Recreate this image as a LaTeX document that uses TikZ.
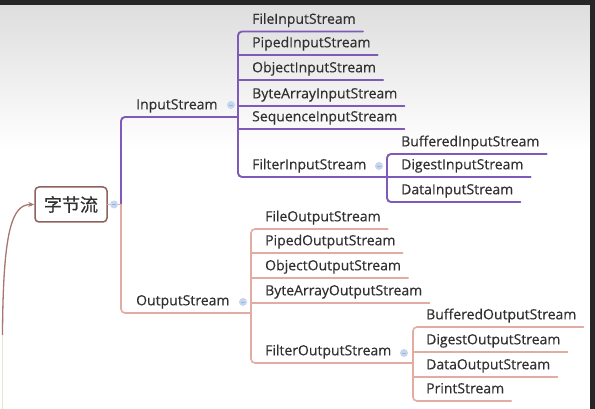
\documentclass[tikz,border=0pt]{standalone}
\usepackage{fontspec}
\setmainfont{Open Sans}[FakeBold=0.35]
\newfontfamily\cjk{Noto Sans CJK SC}[FakeBold=0.5]
\usetikzlibrary{arrows.meta}
\definecolor{inl}{HTML}{7E5BB8}
\definecolor{outl}{HTML}{E2ACA2}
\definecolor{rootc}{HTML}{8E625C}
\definecolor{txt}{HTML}{303030}
\definecolor{dot}{HTML}{C6D6EF}
\definecolor{dotm}{HTML}{9DB3DA}
\definecolor{curvec}{HTML}{A87670}
\definecolor{curvepale}{HTML}{E4E8CC}
\definecolor{framec}{HTML}{262626}
\begin{document}
\begin{tikzpicture}[x=1pt,y=-1pt,
  leaf/.style={anchor=south west, inner sep=0pt, text depth=7.5pt,
    font=\fontsize{14}{16}\selectfont, text=txt},
  rootbox/.style={draw=rootc, line width=1.5pt, rounded corners=4pt, fill=white,
    minimum width=72pt, minimum height=35pt, inner sep=0pt,
    font=\cjk\fontsize{18}{20}\selectfont, text=txt},
  inline/.style={draw=inl, line width=1.9pt, line cap=round},
  outline/.style={draw=outl, line width=1.6pt, line cap=round},
  tog/.style={circle, fill=dot, inner sep=0pt, minimum size=8pt,
    path picture={\draw[dotm, line width=0.7pt] ([xshift=-2pt]path picture bounding box.center) -- ([xshift=2pt]path picture bounding box.center);}},
  ]
\useasboundingbox (0,0) rectangle (595,409);
\fill[white] (0,0) rectangle (595,409);
\shade[top color=black!13, bottom color=white] (0,5) rectangle (590,150);
\fill[framec] (0,0) rectangle (595,5);
\fill[framec] (590,0) rectangle (595,409);

% bar positions
\coordinate (rootbar) at (121,0);
\coordinate (inbar) at (238,0);
\coordinate (outbar) at (251,0);
\coordinate (finbar) at (387,0);
\coordinate (foutbar) at (413,0);

% root
\node[rootbox] (root) at (71,204.5) {字节流};

% level 1
\node[leaf] (is) at (136,117) {InputStream};
\node[leaf] (os) at (136,313) {OutputStream};

% input children
\node[leaf] (fis)   at (252,31.5) {FileInputStream};
\node[leaf] (pis)   at (252,55)   {PipedInputStream};
\node[leaf] (ois)   at (252,80)   {ObjectInputStream};
\node[leaf] (bais)  at (252,106)  {ByteArrayInputStream};
\node[leaf] (sis)   at (252,129)  {SequenceInputStream};
\node[leaf] (filis) at (252,177)  {FilterInputStream};
\node[leaf] (bis)   at (401,154)  {BufferedInputStream};
\node[leaf] (dis)   at (401,177)  {DigestInputStream};
\node[leaf] (dais)  at (401,202)  {DataInputStream};

% output children
\node[leaf] (fos)   at (265,229)  {FileOutputStream};
\node[leaf] (pos)   at (265,253)  {PipedOutputStream};
\node[leaf] (oos)   at (265,278)  {ObjectOutputStream};
\node[leaf] (baos)  at (265,303)  {ByteArrayOutputStream};
\node[leaf] (filos) at (265,363)  {FilterOutputStream};
\node[leaf] (bos)   at (426,327)  {BufferedOutputStream};
\node[leaf] (dos)   at (426,352)  {DigestOutputStream};
\node[leaf] (daos)  at (426,377)  {DataOutputStream};
\node[leaf] (ps)    at (426,401)  {PrintStream};

% root level connectors
\draw[outline] (root.east) -- (rootbar |- root.east);
\draw[inline, rounded corners=4pt] (inbar |- is.south) -- (rootbar |- is.south) -- (rootbar |- root.east);
\draw[outline, rounded corners=4pt] (rootbar |- root.east) -- (rootbar |- os.south) -- (outbar |- os.south);

% input children connectors
\draw[inline, rounded corners=4pt] ([xshift=7pt]fis.south east) -- (inbar |- fis.south) -- (inbar |- filis.south) -- (finbar |- filis.south);
\foreach \n in {pis,ois,bais,sis}{\draw[inline] (inbar |- \n.south) -- ([xshift=7pt]\n.south east);}
\draw[inline, rounded corners=4pt] ([xshift=7pt]bis.south east) -- (finbar |- bis.south) -- (finbar |- dais.south) -- ([xshift=7pt]dais.south east);
\draw[inline] (finbar |- dis.south) -- ([xshift=7pt]dis.south east);

% output children connectors
\draw[outline, rounded corners=4pt] ([xshift=7pt]fos.south east) -- (outbar |- fos.south) -- (outbar |- filos.south) -- (foutbar |- filos.south);
\foreach \n in {pos,oos,baos}{\draw[outline] (outbar |- \n.south) -- ([xshift=7pt]\n.south east);}
\draw[outline, rounded corners=4pt] ([xshift=7pt]bos.south east) -- (foutbar |- bos.south) -- (foutbar |- ps.south) -- ([xshift=7pt]ps.south east);
\foreach \n in {dos,daos}{\draw[outline] (foutbar |- \n.south) -- ([xshift=7pt]\n.south east);}

% toggles
\node[tog] (t0) at (114,204.5) {};
\node[tog] (t1) at (231,105) {};
\node[tog] (t2) at (243,302) {};
\node[tog] (t3) at (379,166) {};
\node[tog] (t4) at (404,353) {};

% incoming curve
\coordinate (cstart) at (2.5,409);
\coordinate (cmid) at (2.5,335);
\draw[curvepale, line width=1.3pt] (cstart) -- (cmid);
\draw[curvec, line width=1.3pt, -{Stealth[length=6pt,width=5pt]}] (cmid) .. controls (3,230) and (12,204.5) .. (root.west);
\end{tikzpicture}
\end{document}
